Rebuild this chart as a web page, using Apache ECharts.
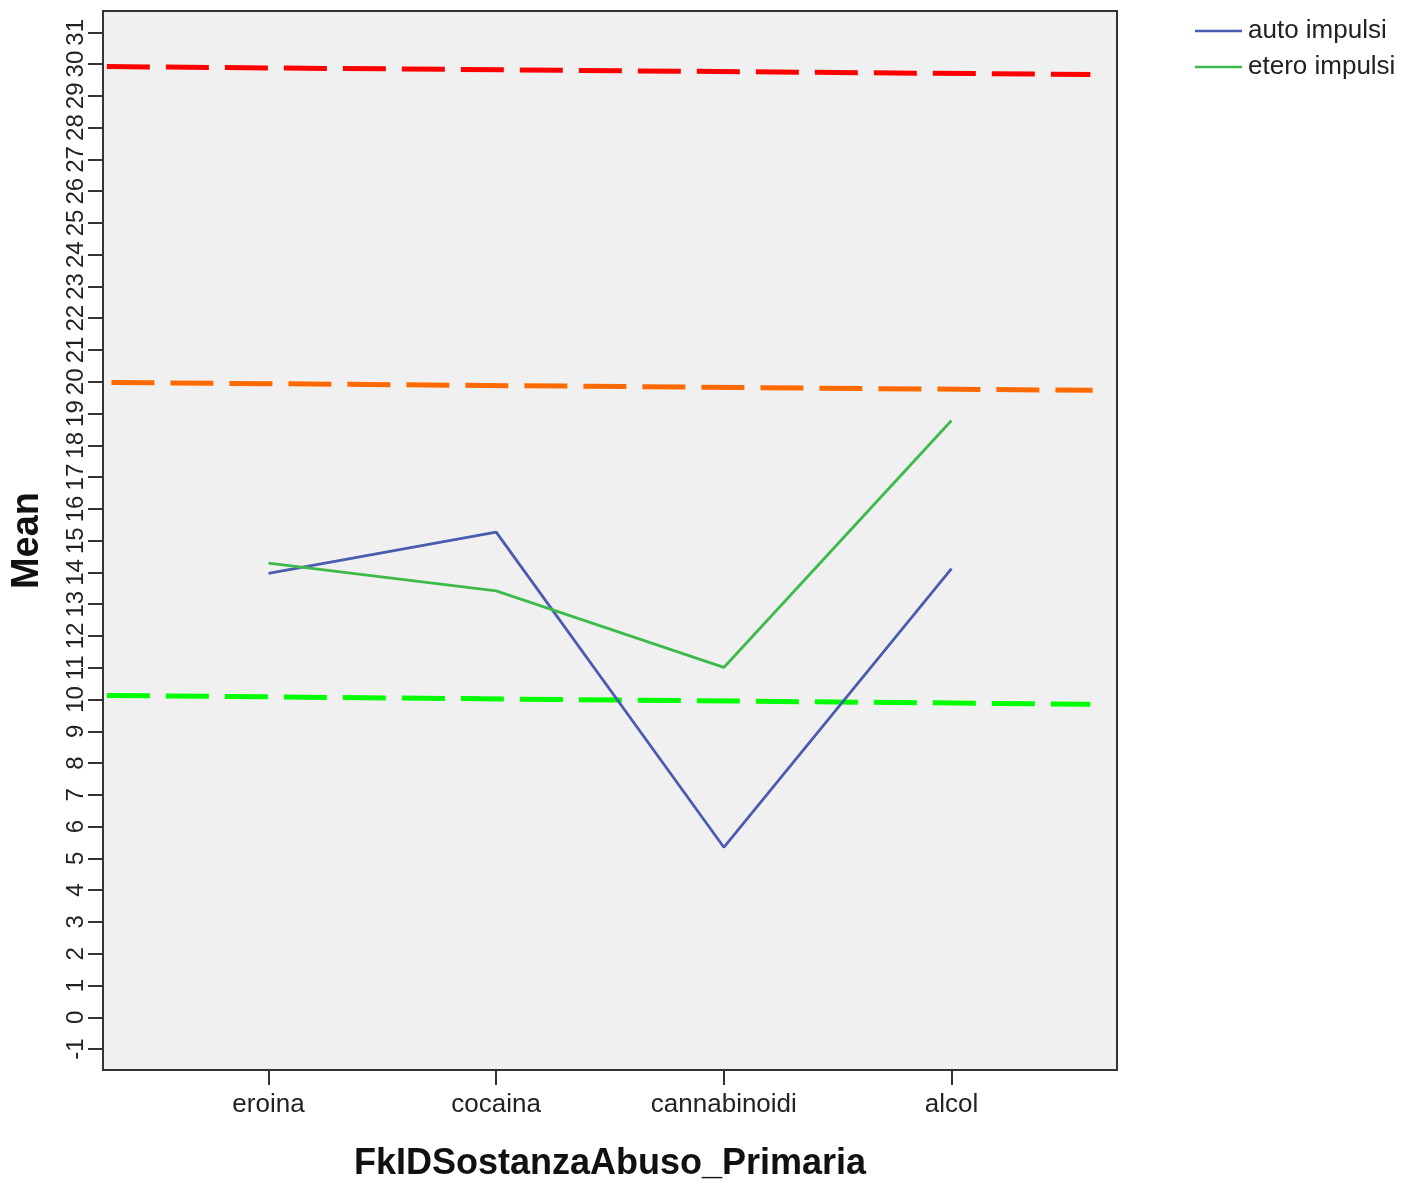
<!DOCTYPE html>
<html>
<head>
<meta charset="utf-8">
<script src="https://cdn.jsdelivr.net/npm/echarts@6/dist/echarts.min.js"></script>
<style>
html,body{margin:0;padding:0;background:#fff;}
#chart{width:1405px;height:1187px;}
</style>
</head>
<body>
<div id="chart"></div>
<script>
const categories = ['eroina', 'cocaina', 'cannabinoidi', 'alcol'];
const autoImpulsi = [13.97, 15.27, 5.35, 14.12];
const eteroImpulsi = [14.29, 13.42, 11.01, 18.78];
const yTicks = [-1,0,1,2,3,4,5,6,7,8,9,10,11,12,13,14,15,16,17,18,19,20,21,22,23,24,25,26,27,28,29,30,31];
// hand-drawn reference lines: [x start, y start], [x end, y end] in axis units
const redLine = [[-0.71, 29.92], [3.61, 29.67]];
const orangeLine = [[-0.69, 19.98], [3.62, 19.73]];
const limeLine = [[-0.71, 10.13], [3.61, 9.85]];

const chart = echarts.init(document.getElementById('chart'), null, {renderer: 'canvas'});
const font = 'Liberation Sans, Arial, sans-serif';
const refSeries = (data, color) => ({
  type: 'line', data: data, symbol: 'none', silent: true, z: 1,
  lineStyle: {color: color, width: 5, type: [43, 16]}
});
chart.setOption({
  animation: false,
  backgroundColor: '#ffffff',
  grid: {left: 103, top: 11, right: 288, bottom: 116, show: true,
         backgroundColor: '#f0f0f0', borderColor: '#333', borderWidth: 2, containLabel: false},
  legend: {
    orient: 'vertical', left: 1195, top: 18, padding: 0, itemWidth: 47, itemHeight: 2.5, itemGap: 10,
    icon: 'rect', data: ['auto impulsi', 'etero impulsi'],
    textStyle: {fontFamily: font, fontSize: 26, color: '#222', lineHeight: 24, padding: [0,0,0,1]}
  },
  xAxis: {
    type: 'value', min: -0.727, max: 3.727,
    name: 'FkIDSostanzaAbuso_Primaria', nameLocation: 'middle', nameGap: 76,
    nameTextStyle: {fontFamily: font, fontSize: 36, fontWeight: 'bold', color: '#111'},
    axisLine: {show: true, onZero: false, lineStyle: {color: '#333', width: 2}},
    axisTick: {show: true, length: 15, customValues: [0,1,2,3], lineStyle: {color: '#333', width: 2}},
    axisLabel: {customValues: [0,1,2,3], margin: 22, fontFamily: font, fontSize: 26, color: '#222',
                formatter: v => categories[Math.round(v)]},
    splitLine: {show: false}
  },
  yAxis: {
    type: 'value', min: -1.66, max: 31.67,
    name: 'Mean', nameLocation: 'middle', nameGap: 56, nameRotate: 90,
    nameTextStyle: {fontFamily: font, fontSize: 38, fontWeight: 'bold', color: '#111'},
    axisLine: {show: true, onZero: false, lineStyle: {color: '#333', width: 2}},
    axisTick: {show: true, length: 15, customValues: yTicks, lineStyle: {color: '#333', width: 2}},
    axisLabel: {customValues: yTicks, rotate: 90, margin: 15, fontFamily: font, fontSize: 24, color: '#222'},
    splitLine: {show: false}
  },
  series: [
    refSeries(redLine, '#ff0000'),
    refSeries(orangeLine, '#ff6a00'),
    refSeries(limeLine, '#00ff00'),
    {name: 'auto impulsi', type: 'line', symbol: 'none', z: 3,
     data: categories.map((c, i) => [i, autoImpulsi[i]]),
     lineStyle: {color: '#4a5cb0', width: 2.8}, itemStyle: {color: '#4a5cb0'}},
    {name: 'etero impulsi', type: 'line', symbol: 'none', z: 3,
     data: categories.map((c, i) => [i, eteroImpulsi[i]]),
     lineStyle: {color: '#3dbb4a', width: 2.8}, itemStyle: {color: '#3dbb4a'}}
  ]
});
</script>
</body>
</html>
